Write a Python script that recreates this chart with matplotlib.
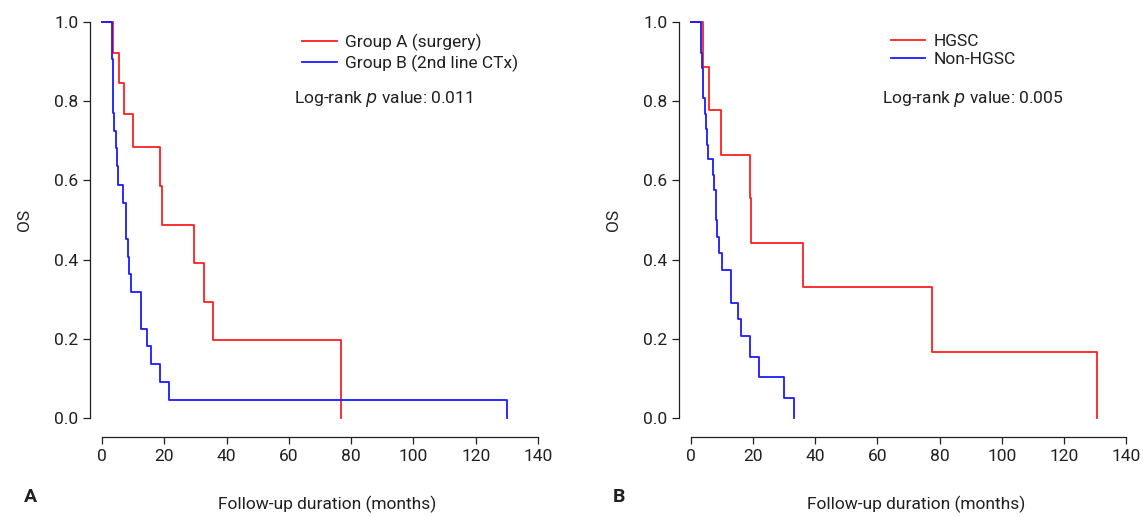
import matplotlib
matplotlib.use("Agg")
import matplotlib.pyplot as plt
from matplotlib import font_manager

# ---- data ----
# Panel A
a_red_t = [0, 3.4, 5.5, 7.2, 10.0, 18.6, 19.3, 29.6, 32.7, 35.7, 76.7]
a_red_s = [1.0, 0.922, 0.847, 0.768, 0.684, 0.586, 0.487, 0.391, 0.294, 0.196, 0.0]
a_blue_t = [0, 3.1, 3.4, 3.6, 4.0, 4.5, 4.7, 5.1, 6.7, 7.6, 8.5, 8.8, 9.4, 12.4, 14.6, 15.6, 18.6, 21.5, 130.0]
a_blue_s = [1.0, 0.906, 0.862, 0.771, 0.726, 0.681, 0.636, 0.589, 0.544, 0.453, 0.407, 0.364, 0.318, 0.226, 0.181, 0.136, 0.090, 0.045, 0.0]
# Panel B
b_red_t = [0, 4.0, 5.8, 9.8, 19.0, 19.3, 36.1, 77.6, 130.7]
b_red_s = [1.0, 0.887, 0.778, 0.665, 0.556, 0.443, 0.332, 0.167, 0.0]
b_blue_t = [0, 3.3, 3.6, 3.9, 4.4, 4.8, 5.2, 5.6, 7.0, 7.5, 8.0, 8.5, 9.1, 10.1, 12.9, 15.0, 16.0, 19.1, 22.0, 30.0, 33.1]
b_blue_s = [1.0, 0.922, 0.883, 0.807, 0.768, 0.729, 0.689, 0.653, 0.614, 0.576, 0.5, 0.458, 0.416, 0.374, 0.291, 0.249, 0.207, 0.155, 0.103, 0.051, 0.0]

x_ticks = [0, 20, 40, 60, 80, 100, 120, 140]
y_ticks = [0.0, 0.2, 0.4, 0.6, 0.8, 1.0]

panels = [
    dict(letter="A", red=(a_red_t, a_red_s), blue=(a_blue_t, a_blue_s),
         labels=["Group A (surgery)", "Group B (2nd line CTx)"], pval="0.011",
         x0=102, x1=538),
    dict(letter="B", red=(b_red_t, b_red_s), blue=(b_blue_t, b_blue_s),
         labels=["HGSC", "Non-HGSC"], pval="0.005",
         x0=691, x1=1126),
]

avail = {f.name for f in font_manager.fontManager.ttflist}
fam = "Liberation Sans Narrow" if "Liberation Sans Narrow" in avail else "Roboto"
plt.rcParams["font.family"] = [fam, "DejaVu Sans"]
TXT = "#231f20"
RED = "#ff2020"
BLUE = "#1a1aff"

W, H = 1143, 517
fig = plt.figure(figsize=(W / 100, H / 100), dpi=100)

for p in panels:
    y_top, y_bot = 22, 418
    ax = fig.add_axes([p["x0"] / W, 1 - y_bot / H, (p["x1"] - p["x0"]) / W, (y_bot - y_top) / H])
    ax.set_xlim(0, 140)
    ax.set_ylim(0, 1)
    t, s = p["red"]
    ax.step(t, s, where="post", color=RED, lw=1.3, clip_on=False, label=p["labels"][0])
    t, s = p["blue"]
    ax.step(t, s, where="post", color=BLUE, lw=1.3, clip_on=False, label=p["labels"][1])
    for sp in ["top", "right"]:
        ax.spines[sp].set_visible(False)
    ax.spines["left"].set_position(("outward", 12 * 0.72))
    ax.spines["bottom"].set_position(("outward", 19 * 0.72))
    ax.spines["left"].set_bounds(0, 1)
    ax.spines["bottom"].set_bounds(0, 140)
    for sp in ["left", "bottom"]:
        ax.spines[sp].set_color(TXT)
        ax.spines[sp].set_linewidth(0.9)
    ax.set_xticks(x_ticks)
    ax.set_yticks(y_ticks)
    ax.set_yticklabels([f"{v:.1f}" for v in y_ticks])
    ax.tick_params(colors=TXT, labelsize=12.5, length=5, width=0.9)
    ax.set_ylabel("OS", fontsize=12.5, color=TXT, labelpad=16)
    ax.set_xlabel("Follow-up duration (months)", fontsize=12.5, color=TXT, labelpad=23)
    ax.xaxis.label.set_x(0.517)
    leg = ax.legend(loc="upper left", bbox_to_anchor=(0.443, 0.988), frameon=False,
                    fontsize=12.5, handlelength=2.0, handletextpad=0.45, labelspacing=0.2,
                    borderaxespad=0)
    for tx in leg.get_texts():
        tx.set_color(TXT)
    ax.text(0.44, 0.805, r"Log-rank $\it{p}$ value: " + p["pval"], transform=ax.transAxes,
            fontsize=12.5, color=TXT, va="center", ha="left")
    fig.text((p["x0"] - 78) / W, 1 - 497 / H, p["letter"], fontsize=14, fontweight="bold",
             color=TXT, va="center", ha="left")

fig.savefig("out.png", dpi=100)
